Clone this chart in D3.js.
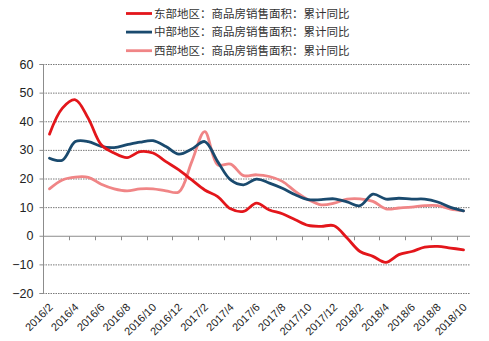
<!DOCTYPE html>
<html><head><meta charset="utf-8">
<script src="https://cdn.jsdelivr.net/npm/d3@7"></script>
<style>
body{margin:0;background:#fff;}
svg{display:block;font-family:"Liberation Sans",Arial,sans-serif;}
</style></head>
<body><svg id="c" width="489" height="341"></svg>
<script>
const months = ["2016/2","2016/3","2016/4","2016/5","2016/6","2016/7","2016/8","2016/9","2016/10","2016/11","2016/12","2017/1",
"2017/2","2017/3","2017/4","2017/5","2017/6","2017/7","2017/8","2017/9","2017/10","2017/11","2017/12","2018/1",
"2018/2","2018/3","2018/4","2018/5","2018/6","2018/7","2018/8","2018/9","2018/10"];
const east = [35.5,44.6,47.5,41,31.8,28.9,27.3,29.4,28.9,25.9,23,19.5,16,13.7,9.4,8.5,11.4,9,7.7,5.6,3.6,3.3,3.5,-0.8,-5.5,-7.2,-9.3,-6.6,-5.5,-4,-3.7,-4.3,-4.9];
const central = [27.1,26.4,32.9,32.9,31.2,30.8,31.8,32.7,33.2,31.2,28.5,30.3,32.9,25.9,19.5,17.8,19.8,18.4,16.6,14.3,12.6,12.6,12.9,11.8,10.5,14.5,12.8,13.1,12.8,12.8,11.8,9.9,8.7];
const west = [16.4,19.5,20.5,20.4,18,16.4,15.7,16.4,16.4,15.7,15.3,25.9,36.4,24.8,25,21,21.3,20.7,19,15.5,12.6,10.8,11.4,12.8,12.9,12,9.4,9.7,10,10.5,10.5,9.3,8.7];
const seriesNames = ["东部地区：商品房销售面积：累计同比","中部地区：商品房销售面积：累计同比","西部地区：商品房销售面积：累计同比"];
const colors = ["#e3161b","#1a4a6e","#f08586"];
const yTicks = [60,50,40,30,20,10,0,-10,-20];
const xLabels = months.filter((d,i)=>i%2===0);

const svg = d3.select("#c");
const L=43, R=470, T=64, B=293;
const x = d3.scaleBand().domain(months).range([L,R]);
const y = d3.scaleLinear().domain([-20,60]).range([B,T]);

// gridlines
svg.append("g").selectAll("line").data(yTicks.filter(v=>v!==0)).join("line")
  .attr("x1",L).attr("x2",R).attr("y1",d=>y(d)+0.5).attr("y2",d=>y(d)+0.5)
  .attr("stroke","#7a7a7a").attr("stroke-width",1).attr("stroke-dasharray","1.5,1");

// y axis
const ya = svg.append("g").attr("transform",`translate(${L+0.5},0)`)
  .call(d3.axisLeft(y).tickValues(yTicks).tickSize(4).tickPadding(6).tickFormat(d3.format("d")));
ya.select(".domain").attr("stroke","#8c8c8c").attr("d",`M-4,${y(60)+0.5}H0V${B+0.5}H-4`);
ya.selectAll(".tick line").attr("stroke","#8c8c8c");
ya.selectAll(".tick text").attr("fill","#222").style("font-size","12.5px").style("font-family","Liberation Sans, Arial, sans-serif");

// zero line with ticks
const za = svg.append("g").attr("transform",`translate(0,${y(0)+0.5})`);
za.append("line").attr("x1",L).attr("x2",R).attr("stroke","#8c8c8c");
const tickPos = d3.range(0,months.length+1,2).map(i=>L + i*x.step());
za.selectAll(".tk").data(tickPos).join("line").attr("class","tk")
  .attr("x1",d=>Math.round(d)+0.5).attr("x2",d=>Math.round(d)+0.5).attr("y1",0).attr("y2",4)
  .attr("stroke","#8c8c8c");

// x labels
svg.append("g").selectAll("text").data(xLabels).join("text")
  .attr("transform",d=>`translate(${x(d)+x.bandwidth()/2+4},${B+15}) rotate(-45)`)
  .attr("text-anchor","end").attr("fill","#222").style("font-size","11px").text(d=>d);

// lines
const line = d3.line().x((d,i)=>x(months[i])+x.bandwidth()/2).y(d=>y(d)).curve(d3.curveCatmullRom.alpha(0.5));
[west,central,east].forEach((s,k)=>{
  const idx=[2,1,0][k];
  svg.append("path").datum(s).attr("d",line).attr("fill","none")
    .attr("stroke",colors[idx]).attr("stroke-width",2.8).attr("stroke-linejoin","round").attr("stroke-linecap","round");
});

// legend
const lg = svg.append("g");
seriesNames.forEach((n,i)=>{
  const yy = 13.5 + i*18.6;
  lg.append("line").attr("x1",126).attr("x2",152).attr("y1",yy).attr("y2",yy).attr("stroke",colors[i]).attr("stroke-width",2.8);
  lg.append("text").attr("x",154).attr("y",yy+4.2).attr("fill","#333")
    .style("font-family","'Noto Sans CJK SC',sans-serif").style("font-size","11.5px").text(n);
});
</script>
</body></html>
